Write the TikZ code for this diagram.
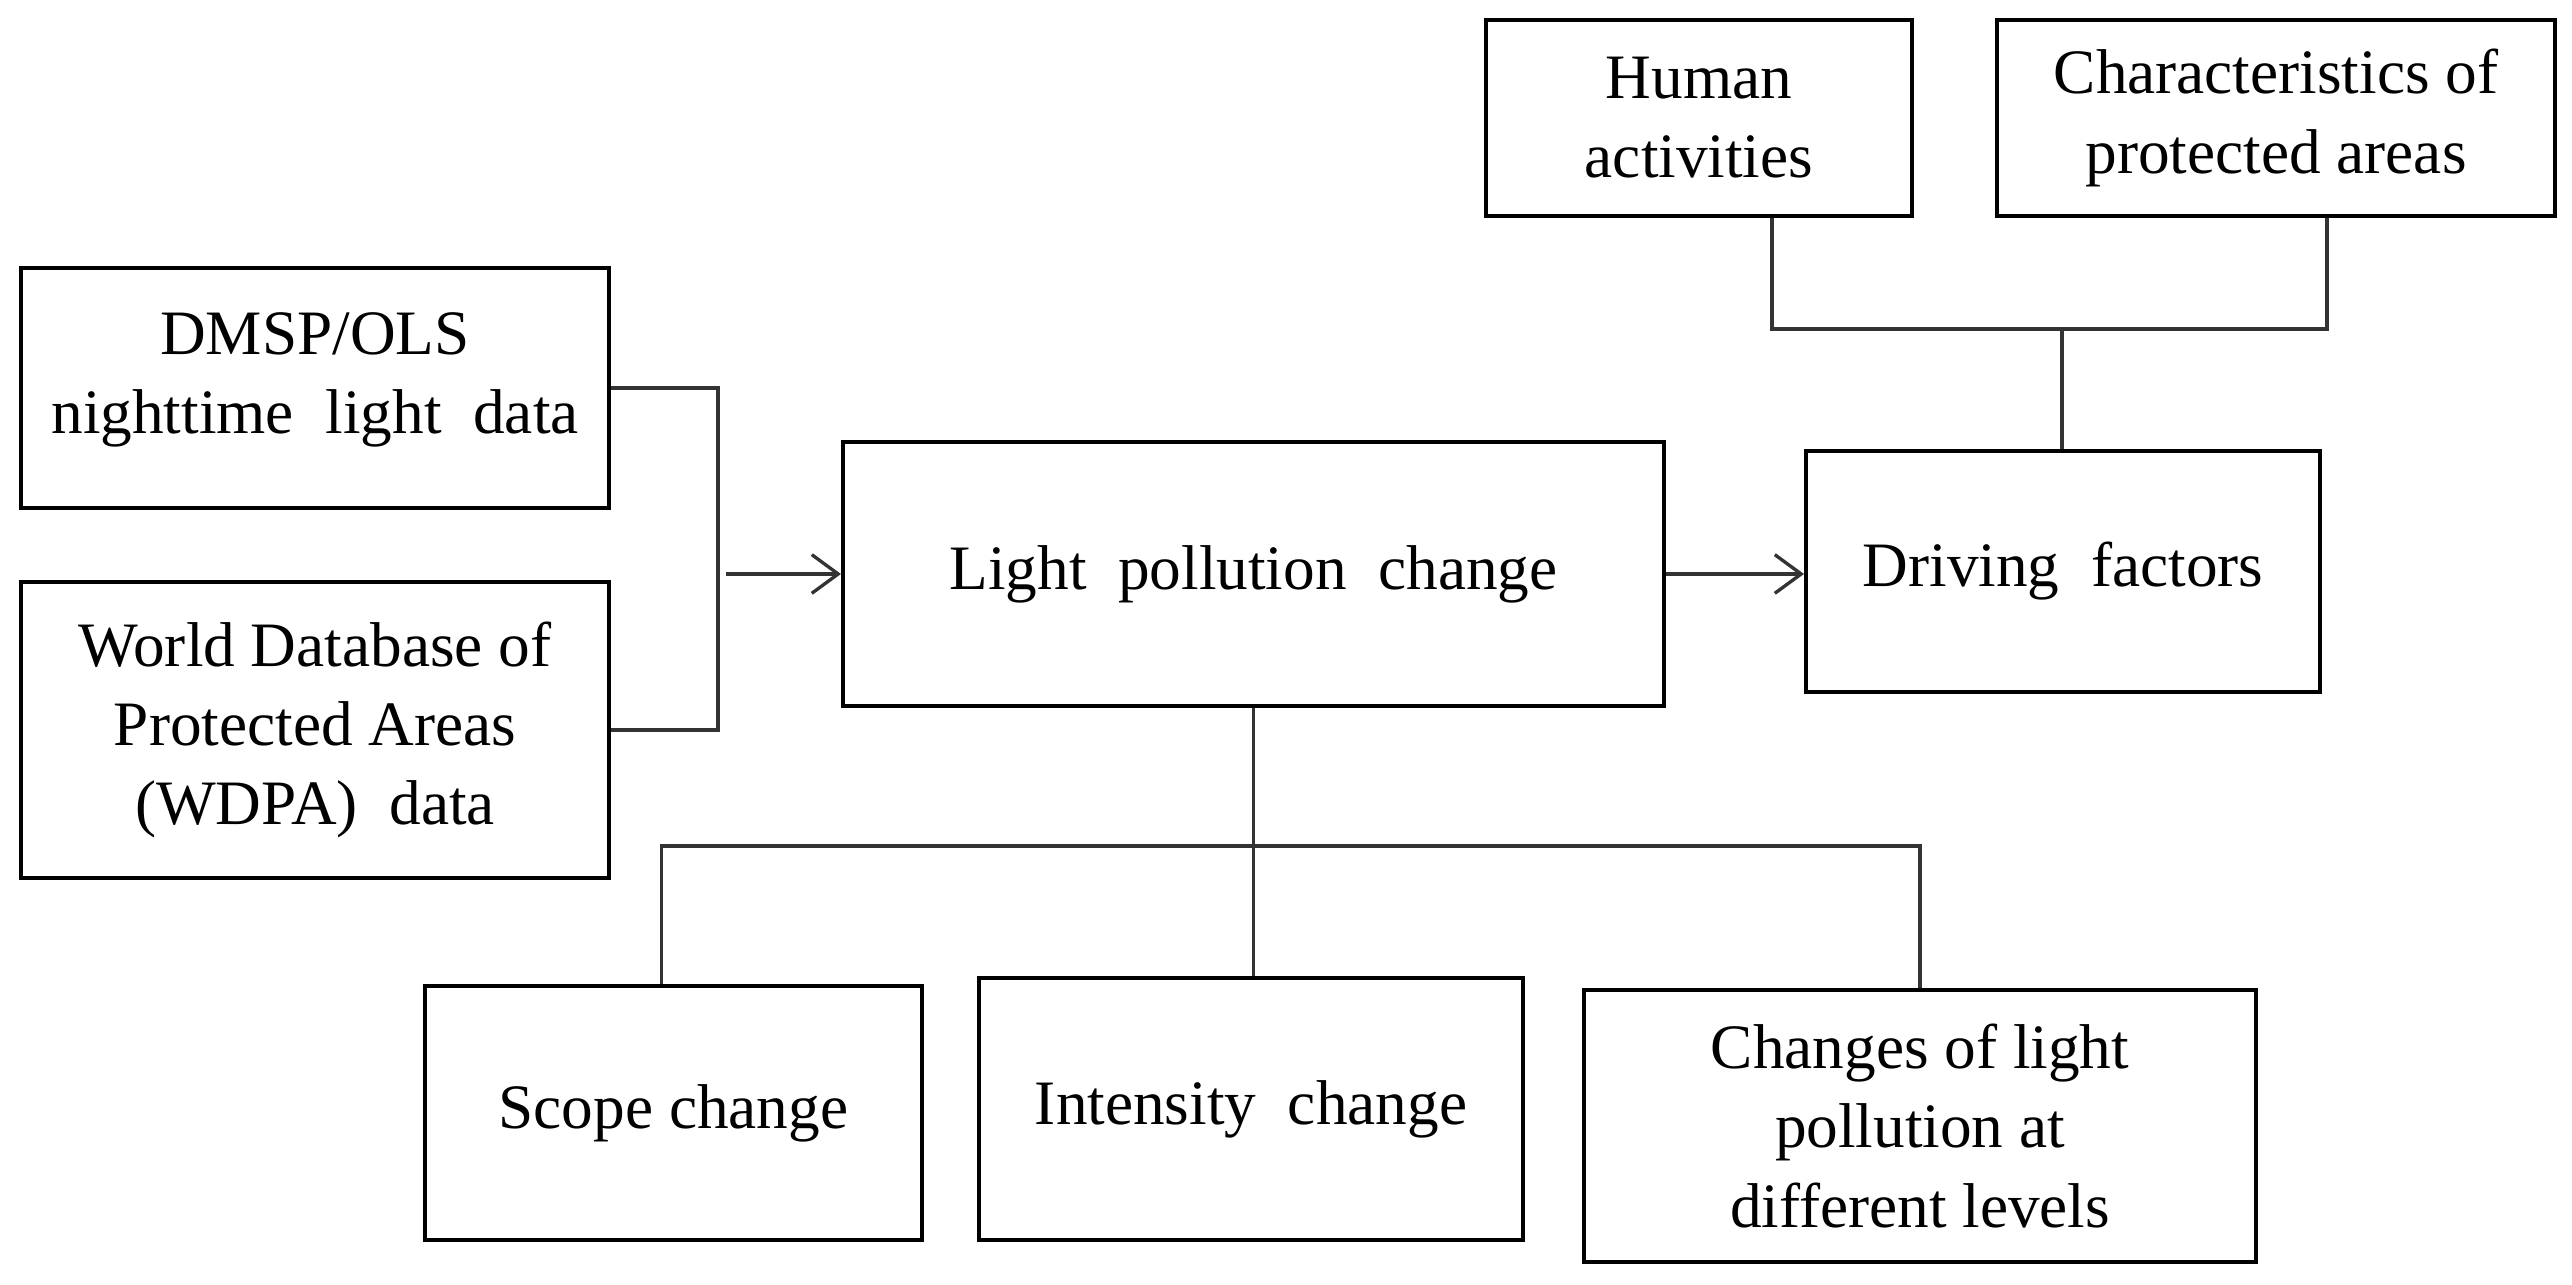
\documentclass[tikz,border=0pt]{standalone}
\usepackage{fontspec}
\setmainfont{Liberation Serif}
\usetikzlibrary{arrows.meta}

\begin{document}
\begin{tikzpicture} [
    box/.style={draw=black, line width=1.15pt, align=center, inner sep=0pt,
        font=\fontsize{18}{22.5}\selectfont},
    link/.style={draw=black!80, line width=0.95pt},
    arr/.style={link, -{Straight Barb[length=7.5pt,width=11pt]}},
    ]
    \useasboundingbox (0,0) rectangle (25.72,12.85);

    % data sources
    \node[box, minimum width=5.88cm, minimum height=2.40cm] (dmsp) at (3.15,8.97)
        {DMSP/OLS\\nighttime\ \ light\ \ data\\[-0.5cm]\mbox{}};
    \node[box, minimum width=5.88cm, minimum height=2.96cm] (wdpa) at (3.15,5.55)
        {World Database of\\Protected Areas\\(WDPA)\ \ data};

    % main and factors
    \node[box, minimum width=8.21cm, minimum height=2.64cm] (lpc) at (12.535,7.11)
        {Light\ \ pollution\ \ change};
    \node[box, minimum width=5.14cm, minimum height=2.41cm] (drive) at (20.63,7.135)
        {Driving\ \ factors};
    \node[box, minimum width=4.26cm, minimum height=1.96cm] (human) at (16.99,11.67)
        {Human\\activities};
    \node[box, minimum width=5.58cm, minimum height=1.96cm] (chara) at (22.76,11.67)
        {Characteristics of\\protected areas};

    % results
    \node[box, minimum width=4.97cm, minimum height=2.54cm] (scope) at (6.735,1.72)
        {Scope change};
    \node[box, minimum width=5.44cm, minimum height=2.62cm] (inten) at (12.51,1.76)
        {Intensity\ \ change};
    \node[box, minimum width=6.72cm, minimum height=2.72cm] (levels) at (19.20,1.59)
        {Changes of light\\pollution at\\different levels};

    \coordinate (fork) at (20.62,9.56);
    \coordinate (bus) at (12.535,4.39);

    \draw[link] (dmsp.east) -- ++(1.07,0) coordinate (bend) |- (wdpa.east);
    \draw[arr] ([xshift=0.8mm]bend |- lpc.west) -- (lpc.west);
    \draw[arr] (lpc.east) -- (lpc.east -| drive.west);

    \draw[link] ([xshift=7.3mm]human.south) |- ([xshift=5.1mm]chara.south |- fork)
        -- ([xshift=5.1mm]chara.south);
    \draw[link] (fork) -- (fork |- drive.north);

    \draw[link] (lpc.south) -- (lpc.south |- inten.north);
    \draw[link] ([xshift=-1.2mm]scope.north) |- (levels.north |- bus) -- (levels.north);

\end{tikzpicture}
\end{document}
